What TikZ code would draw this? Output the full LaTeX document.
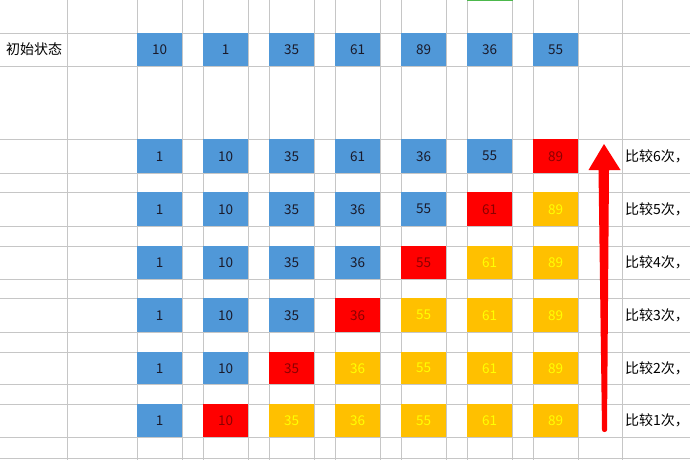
\documentclass[tikz,border=0pt]{standalone}
\usepackage{fontspec}
\setmainfont{Noto Sans CJK SC}
\definecolor{cblue}{HTML}{5098D8}
\definecolor{cred}{HTML}{FF0000}
\definecolor{cgold}{HTML}{FFC000}
\definecolor{tred}{HTML}{8B0000}
\definecolor{tgold}{HTML}{FFFF00}
\definecolor{gridc}{HTML}{C6C6C6}
\definecolor{tdark}{HTML}{1A1A2A}
\begin{document}
\begin{tikzpicture}[x=1pt,y=-1pt,
  cellbase/.style={anchor=north west,inner sep=0pt,minimum width=45pt,font=\fontsize{13.5}{13.5}\selectfont},
  B/.style={cellbase,fill=cblue,text=tdark},
  R/.style={cellbase,fill=cred,text=tred},
  G/.style={cellbase,fill=cgold,text=tgold},
  lbl/.style={anchor=west,inner sep=0pt,font=\fontsize{14}{14}\selectfont,text=black},
  gridline/.style={draw=gridc,line width=0.8pt}]
\useasboundingbox (0,0) rectangle (690,460);
\clip (0,0) rectangle (690,460);
\fill[white] (0,0) rectangle (690,460);
% grid
\foreach \xx in {67,137,182,203,248,269,314,335,380,401,446,467,512,533,578,622}
  \draw[gridline] (\xx,0) -- (\xx,460);
\foreach \yy in {33,66,139,173,192,226,246,279,298,332,352,384,404,437,458}
  \draw[gridline] (0,\yy) -- (690,\yy);
\draw[green!60!black!70,line width=1.5pt] (467,0.5) -- (513,0.5);
% initial row
\node[lbl] (init) at (6,49.5) {初始状态};
\foreach \i/\v in {0/10,1/1,2/35,3/61,4/89,5/36,6/55}
  \node[B,minimum height=33pt] (i\i) at ({137+66*\i},33) {\v};
% row 1
\foreach \i/\v/\s in {0/1/B,1/10/B,2/35/B,3/61/B,4/36/B,5/55/B,6/89/R}
  \node[\s,minimum height=34pt] (a\i) at ({137+66*\i},139) {\v};
% row 2
\foreach \i/\v/\s in {0/1/B,1/10/B,2/35/B,3/36/B,4/55/B,5/61/R,6/89/G}
  \node[\s,minimum height=34pt] (b\i) at ({137+66*\i},192) {\v};
% row 3
\foreach \i/\v/\s in {0/1/B,1/10/B,2/35/B,3/36/B,4/55/R,5/61/G,6/89/G}
  \node[\s,minimum height=33pt] (c\i) at ({137+66*\i},246) {\v};
% row 4
\foreach \i/\v/\s in {0/1/B,1/10/B,2/35/B,3/36/R,4/55/G,5/61/G,6/89/G}
  \node[\s,minimum height=34pt] (d\i) at ({137+66*\i},298) {\v};
% row 5
\foreach \i/\v/\s in {0/1/B,1/10/B,2/35/R,3/36/G,4/55/G,5/61/G,6/89/G}
  \node[\s,minimum height=32pt] (e\i) at ({137+66*\i},352) {\v};
% row 6
\foreach \i/\v/\s in {0/1/B,1/10/R,2/35/G,3/36/G,4/55/G,5/61/G,6/89/G}
  \node[\s,minimum height=33pt] (f\i) at ({137+66*\i},404) {\v};
% labels
\node[lbl] (la) at (625,156) {比较6次，};
\node[lbl] (lb) at (625,209) {比较5次，};
\node[lbl] (lc) at (625,262.5) {比较4次，};
\node[lbl] (ld) at (625,315) {比较3次，};
\node[lbl] (le) at (625,368) {比较2次，};
\node[lbl] (lf) at (625,420.5) {比较1次，};
% arrow
\fill[cred] (604,144) -- (620.5,170) -- (609,170) -- (607,430)
  arc[start angle=0,end angle=180,x radius=2.5pt,y radius=-2pt] -- (598.5,170) -- (588.5,170) -- cycle;
\end{tikzpicture}
\end{document}
